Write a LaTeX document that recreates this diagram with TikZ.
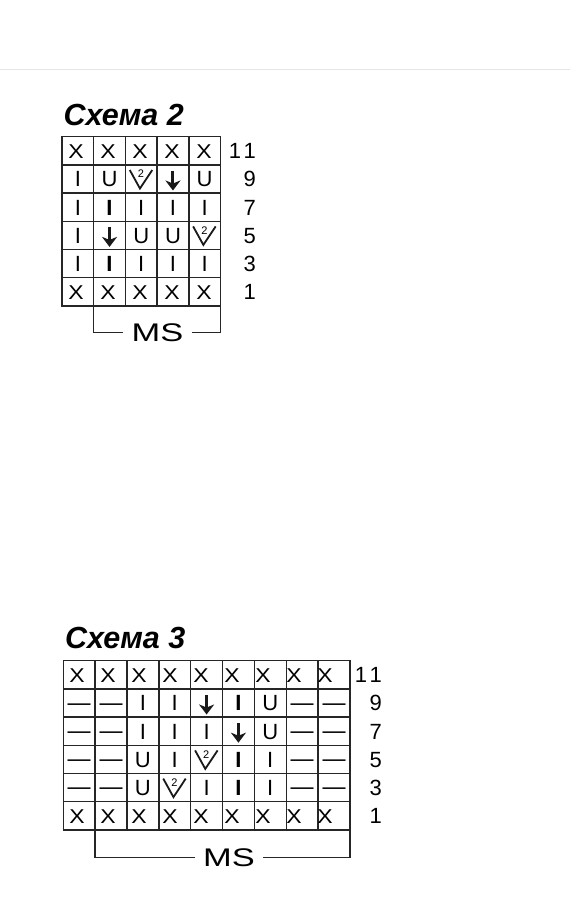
\documentclass[tikz,border=0pt]{standalone}
\usepackage{fontspec}
\usepackage{graphicx}
\usepackage{tikz}
\usetikzlibrary{arrows.meta}
\newfontfamily\chartfont{Liberation Sans}

\tikzset{
  sym i/.pic={\node[cell] (-g) at (0,7.8) {I};},
  sym b/.pic={\node[cell,font=\chartfont\bfseries\fontsize{22}{22}\selectfont] (-g) at (0,7.8) {I};},
  sym u/.pic={\node[cell] (-g) at (0,7.8) {U};},
  sym d/.pic={\node[cell,font=\chartfont\fontsize{23}{23}\selectfont] (-g) at (0,7.3) {\textemdash};},
  sym a/.pic={\coordinate (-t) at (0,-8); \coordinate (-h) at (0,11.5);
              \draw[downarrow] (-t) -- (-h);},
  sym v/.pic={\coordinate (-l) at (-11.5,-9); \coordinate (-m) at (-1.3,9.5); \coordinate (-r) at (11,-9);
              \draw[vee] (-l) -- (-m) -- (-r);
              \node[inner sep=0pt,font=\chartfont\fontsize{11}{11}\selectfont] (-n) at (-0.3,-5.2) {2};}
}

\begin{document}
\begin{tikzpicture}[x=1pt,y=-1pt,
  grid/.style={line width=1.4pt,black!85,line cap=rect},
  cell/.style={inner sep=0pt,anchor=base,font=\chartfont\fontsize{22}{22}\selectfont},
  cross/.style={cell,font=\chartfont\fontsize{20}{20}\selectfont},
  rownum/.style={inner sep=0pt,anchor=base east,font=\chartfont\fontsize{22}{22}\selectfont},
  title/.style={inner sep=0pt,anchor=base west,font=\chartfont\bfseries\itshape\fontsize{30.5}{30.5}\selectfont},
  ms/.style={inner sep=0pt,inner xsep=8pt,font=\chartfont\fontsize{25.5}{25.5}\selectfont},
  downarrow/.style={line width=3pt,black!90,-{Stealth[length=10pt,width=15pt,inset=3pt]}},
  vee/.style={line width=1.8pt,black!90,line join=miter}]
%
\fill[white] (0,0) rectangle (570,922);
\useasboundingbox (0,0) rectangle (570,922);
\draw[black!10,line width=1.2pt] (0,69.3) -- (570,69.3);
%
% Схема 2
\node[title] (t2) at (63.5,125) {Схема 2};
\foreach \c in {0,...,5} \draw[grid] (62+31.7*\c,136.7) -- (62+31.7*\c,305.9);
\foreach \r in {0,...,6} \draw[grid] (62,136.7+28.2*\r) -- (220.5,136.7+28.2*\r);
\foreach \c in {1,...,5} {
  \node[cross] (s2-t\c) at (76+32*\c-32,158.4) {\scalebox{1.15}[1]{X}};
  \node[cross] (s2-b\c) at (76+32*\c-32,299.4) {\scalebox{1.15}[1]{X}};
}
\foreach \r/\row in {1/{i,u,v,a,u},2/{i,b,i,i,i},3/{i,a,u,u,v},4/{i,b,i,i,i}}
  \foreach \s [count=\c] in \row
    \pic (s2-\r-\c) at (77.85+31.7*\c-31.7,150.8+28.2*\r) {sym \s};
\node[rownum] (s2-n11) at (256,158.6) {1\kern2.5pt1};
\foreach \n [count=\r from 1] in {9,7,5,3,1}
  \node[rownum] (s2-n\n) at (256,158.6+28.2*\r) {\n};
\coordinate (s2-bl) at (93.7,305.9);
\coordinate (s2-br) at (220.5,305.9);
\node[ms] (ms2) at (157.5,332.5) {\scalebox{1.35}[1]{MS}};
\draw[grid,line cap=butt] (s2-bl) |- (ms2.west);
\draw[grid,line cap=butt] (ms2.east) -| (s2-br);
%
% Схема 3
\node[title] (t3) at (65,648) {Схема 3};
\foreach \c in {0,...,9} \draw[grid] (63.3+31.85*\c,660.7) -- (63.3+31.85*\c,829.9);
\foreach \r in {0,...,6} \draw[grid] (63.3,660.7+28.2*\r) -- (349.95,660.7+28.2*\r);
\foreach \c in {1,...,9} {
  \node[cross] (s3-t\c) at (77+31*\c-31,682.4) {\scalebox{1.15}[1]{X}};
  \node[cross] (s3-b\c) at (77+31*\c-31,823.4) {\scalebox{1.15}[1]{X}};
}
\foreach \r/\row in {1/{d,d,i,i,a,b,u,d,d},2/{d,d,i,i,i,a,u,d,d},3/{d,d,u,i,v,b,i,d,d},4/{d,d,u,v,i,b,i,d,d}}
  \foreach \s [count=\c] in \row
    \pic (s3-\r-\c) at (79.2+31.85*\c-31.85,674.8+28.2*\r) {sym \s};
\node[rownum] (s3-n11) at (382,682.6) {1\kern2.5pt1};
\foreach \n [count=\r from 1] in {9,7,5,3,1}
  \node[rownum] (s3-n\n) at (382,682.6+28.2*\r) {\n};
\coordinate (s3-bl) at (95.15,829.9);
\coordinate (s3-br) at (349.95,829.9);
\node[ms] (ms3) at (229,857.5) {\scalebox{1.35}[1]{MS}};
\draw[grid,line cap=butt] (s3-bl) |- (ms3.west);
\draw[grid,line cap=butt] (ms3.east) -| (s3-br);
%
\end{tikzpicture}
\end{document}
